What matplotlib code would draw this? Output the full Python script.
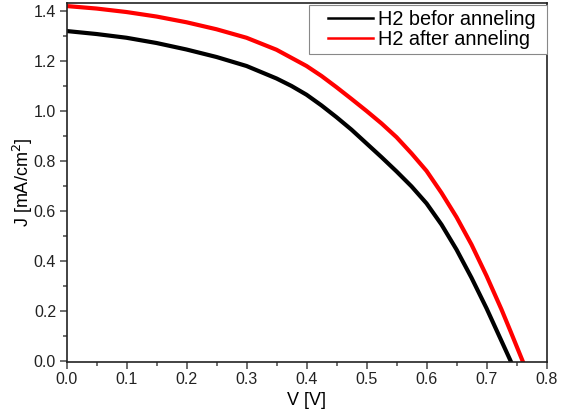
import numpy as np
import matplotlib.pyplot as plt
from matplotlib.ticker import MultipleLocator

plt.rcParams['font.family'] = ['Liberation Sans', 'DejaVu Sans']

# J-V data
v_before = [0.000, 0.050, 0.100, 0.150, 0.200, 0.250, 0.300, 0.350, 0.375, 0.400,
            0.425, 0.450, 0.475, 0.500, 0.525, 0.550, 0.575, 0.600, 0.625, 0.650,
            0.675, 0.700, 0.720, 0.740]
j_before = [1.320, 1.308, 1.293, 1.272, 1.246, 1.216, 1.180, 1.130, 1.100, 1.065,
            1.022, 0.975, 0.925, 0.870, 0.815, 0.758, 0.698, 0.630, 0.545, 0.445,
            0.332, 0.210, 0.105, 0.0]

v_after = [0.000, 0.050, 0.100, 0.150, 0.200, 0.250, 0.300, 0.350, 0.400, 0.425,
           0.450, 0.475, 0.500, 0.525, 0.550, 0.575, 0.600, 0.625, 0.650, 0.675,
           0.700, 0.725, 0.740, 0.760]
j_after = [1.420, 1.410, 1.396, 1.378, 1.355, 1.327, 1.293, 1.245, 1.180, 1.140,
           1.095, 1.048, 1.000, 0.950, 0.895, 0.830, 0.760, 0.672, 0.575, 0.465,
           0.340, 0.205, 0.118, 0.0]

labels = ['H2 befor anneling', 'H2 after anneling']

fig = plt.figure(figsize=(5.69, 4.17), dpi=100)
ax = fig.add_axes([0.1169, 0.1319, 0.8436, 0.862])

ax.plot(v_before, j_before, color='black', linewidth=3)
ax.plot(v_after, j_after, color='red', linewidth=3)

ax.set_xlim(0, 0.8)
ax.set_ylim(-0.005, 1.434)

ax.xaxis.set_major_locator(MultipleLocator(0.1))
ax.xaxis.set_minor_locator(MultipleLocator(0.05))
ax.yaxis.set_major_locator(MultipleLocator(0.2))
ax.yaxis.set_minor_locator(MultipleLocator(0.1))
ax.tick_params(which='major', direction='out', length=5, width=1.2, pad=2.5,
               color='#555555', labelsize=11.5, labelcolor='#222222')
ax.tick_params(which='minor', direction='out', length=3, width=1.2, color='#555555')

for s in ax.spines.values():
    s.set_linewidth(1.2)
    s.set_color('#222222')

ax.set_xlabel('V [V]', fontsize=13, labelpad=3)
ax.set_ylabel('J [mA/cm$^2$]', fontsize=13, labelpad=-1)

# trailing space gives the wider right margin of the original legend box
leg = ax.legend(ax.get_lines(), [l + ' ' for l in labels],
                loc='upper right', bbox_to_anchor=(1.0, 0.993), fontsize=14.3,
                frameon=True, fancybox=False, edgecolor='#888888', framealpha=1,
                borderaxespad=0, handlelength=2.97, handletextpad=0.27,
                borderpad=0.25, labelspacing=0.05)
leg.get_frame().set_linewidth(0.8)
# shorten legend lines from the left, as in the original
for line in leg.get_lines():
    line.set_linewidth(1.8)
    x = np.asarray(line.get_xdata(), dtype=float)
    line.set_xdata(np.linspace(x[0] + 10, x[-1], len(x)))

plt.savefig('out.png', dpi=100)
